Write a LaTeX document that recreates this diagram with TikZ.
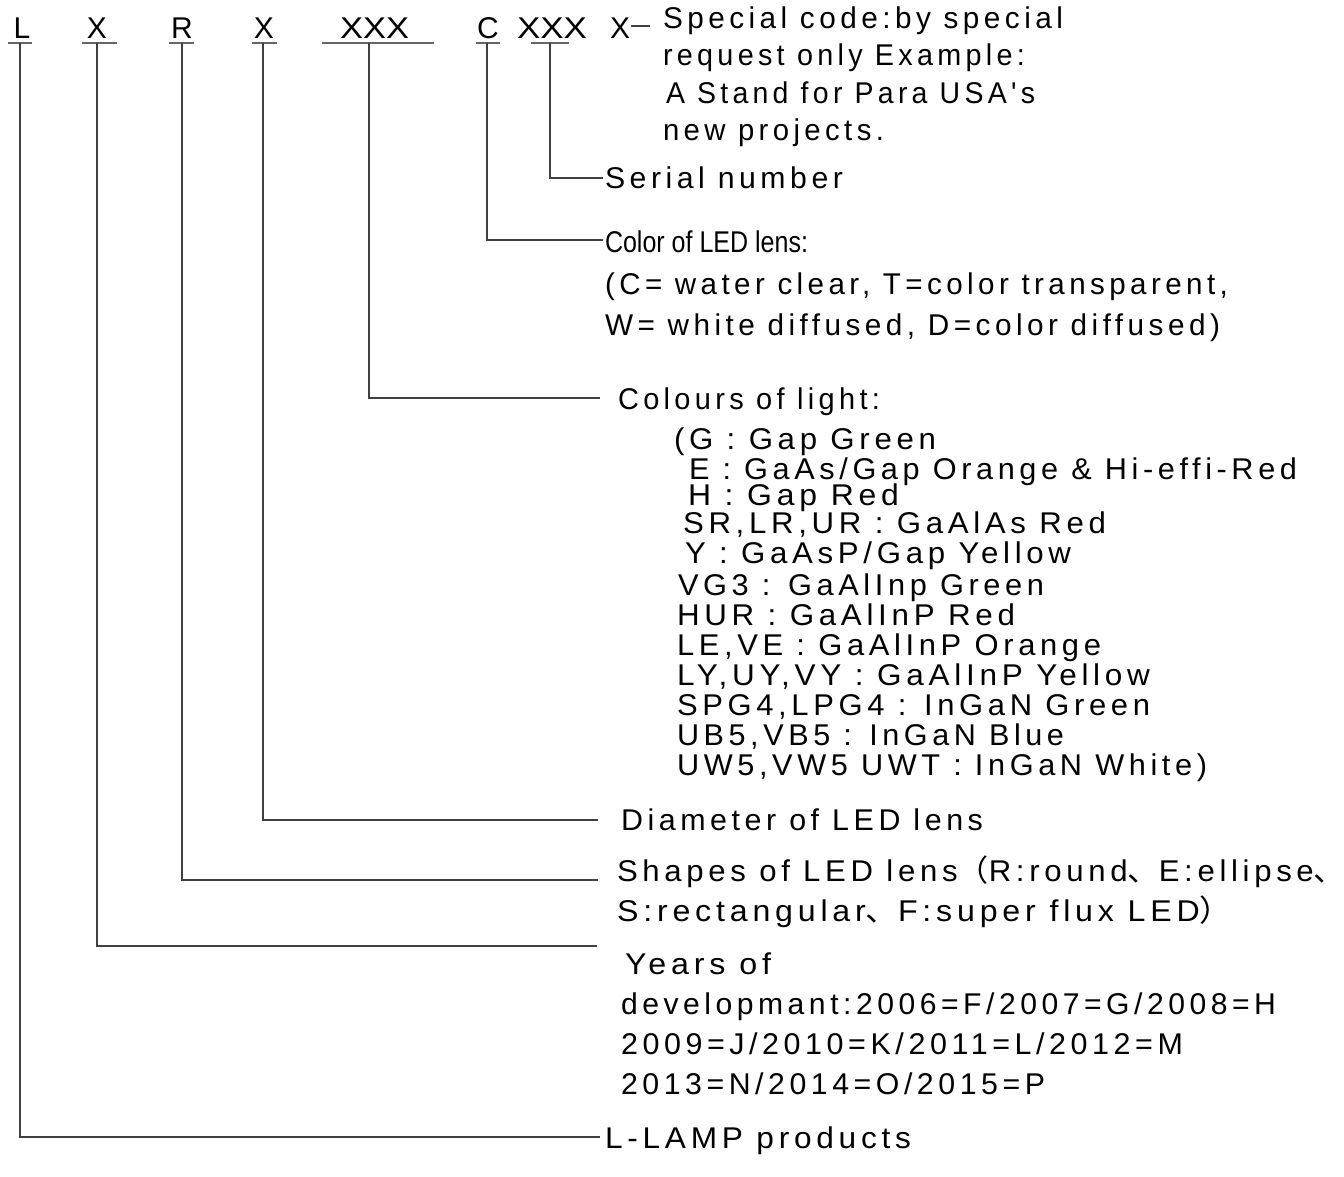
\documentclass[tikz,border=0pt]{standalone}
\usepackage{fontspec}
\usepackage{graphicx}
\setmainfont{Liberation Sans}
\newfontfamily\wfont[LetterSpace=15]{Liberation Sans}
\newfontfamily\cjk{Noto Sans CJK SC}
\newsavebox\fitbox
\newcommand\fitw[2]{\sbox\fitbox{#2}\pgfmathsetmacro\fitr{#1/\the\wd\fitbox}\scalebox{\fitr}[1]{\usebox\fitbox}}
\begin{document}
\begin{tikzpicture}[x=1pt,y=-1pt,
  conn/.style={draw=black!75,line width=1.3pt},
  ul/.style={draw=black!60,line width=1.3pt},
  top/.style={anchor=base,inner sep=0pt,outer sep=0pt,font=\fontsize{30}{30}\selectfont},
  wtxt/.style={anchor=base west,inner sep=0pt,outer sep=0pt,font=\wfont\fontsize{30}{30}\selectfont},
  ntxt/.style={anchor=base west,inner sep=0pt,outer sep=0pt,font=\fontsize{30}{30}\selectfont}]
\useasboundingbox (0,0) rectangle (1344,1177);
\fill[white] (0,0) rectangle (1344,1177);
% top code letters
\node[top] (tL) at (22,39) {L};
\node[top] (tX1) at (97,39) {X};
\node[top] (tR) at (182,39) {R};
\node[top] (tX2) at (264,39) {X};
\node[top,anchor=base west] (tXXX1) at (340,39) {\fitw{69}{XXX}};
\node[top] (tC) at (488,39) {C};
\node[top,anchor=base west] (tXXX2) at (517,39) {\fitw{70}{XXX}};
\node[top] (tX3) at (620,39) {X};
% underlines
\draw[ul] (8,43) -- (32,43);
\draw[ul] (82,43) -- (117,43);
\draw[ul] (169,43) -- (194,43);
\draw[ul] (252,43) -- (277,43);
\draw[ul] (322,43) -- (434,43);
\draw[ul] (476,43) -- (500,43);
\draw[ul] (531,43) -- (569,43);
% connector anchor points
\coordinate (aL) at (20,43);
\coordinate (aX1) at (97,43);
\coordinate (aR) at (182,43);
\coordinate (aX2) at (263,43);
\coordinate (aXXX1) at (369,43);
\coordinate (aC) at (487,43);
\coordinate (aXXX2) at (550,43);
\coordinate (aX3) at (631,26);
\coordinate (eL) at (600,1137);
\coordinate (eX1) at (597,946);
\coordinate (eR) at (598,880);
\coordinate (eX2) at (598,820);
\coordinate (eXXX1) at (600,398);
\coordinate (eC) at (603,240);
\coordinate (eXXX2) at (603,178);
\coordinate (eX3) at (650,26);
\draw[conn] (aL) |- (eL);
\draw[conn] (aX1) |- (eX1);
\draw[conn] (aR) |- (eR);
\draw[conn] (aX2) |- (eX2);
\draw[conn] (aXXX1) |- (eXXX1);
\draw[conn] (aC) |- (eC);
\draw[conn] (aXXX2) |- (eXXX2);
\draw[conn] (aX3) -- (eX3);
% special code
\node[wtxt] (sp1) at (663,29) {\fitw{400}{Special code:by special}};
\node[wtxt] (sp2) at (663,66) {\fitw{362}{request only Example:}};
\node[wtxt] (sp3) at (666,104) {\fitw{369}{A Stand for Para USA's}};
\node[wtxt] (sp4) at (663,141) {\fitw{221}{new projects.}};
% serial
\node[wtxt] (ser) at (605,189) {\fitw{238}{Serial number}};
% color of lens
\node[ntxt] (col1) at (605,253) {\fitw{203}{Color of LED lens:}};
\node[wtxt] (col2) at (605,294) {\fitw{623}{(C= water clear, T=color transparent,}};
\node[wtxt] (col3) at (605,335) {\fitw{615}{W= white diffused, D=color diffused)}};
% colours of light
\node[wtxt] (lt0) at (618,409) {\fitw{262}{Colours of light:}};
\node[wtxt] (lt1) at (674,449) {\fitw{262}{(G : Gap Green}};
\node[wtxt] (lt2) at (689,479) {\fitw{608}{E : GaAs/Gap Orange \& Hi-effi-Red}};
\node[wtxt] (lt3) at (688,505) {\fitw{211}{H : Gap Red}};
\node[wtxt] (lt4) at (683,533) {\fitw{423}{SR,LR,UR : GaAlAs Red}};
\node[wtxt] (lt5) at (685,563) {\fitw{386}{Y : GaAsP/Gap Yellow}};
\node[wtxt] (lt6) at (678,595) {\fitw{366}{VG3 : GaAlInp Green}};
\node[wtxt] (lt7) at (677,625) {\fitw{338}{HUR : GaAlInP Red}};
\node[wtxt] (lt8) at (677,655) {\fitw{424}{LE,VE : GaAlInP Orange}};
\node[wtxt] (lt9) at (677,685) {\fitw{473}{LY,UY,VY : GaAlInP Yellow}};
\node[wtxt] (lt10) at (677,715) {\fitw{473}{SPG4,LPG4 : InGaN Green}};
\node[wtxt] (lt11) at (677,745) {\fitw{387}{UB5,VB5 : InGaN Blue}};
\node[wtxt] (lt12) at (677,775) {\fitw{530}{UW5,VW5 UWT : InGaN White)}};
% diameter
\node[wtxt] (dia) at (621,830) {\fitw{362}{Diameter of LED lens}};
% shapes
\node[wtxt] (shp1) at (617,881) {\fitw{728}{Shapes of LED lens{\cjk （}R:round{\cjk 、}E:ellipse{\cjk 、}}};
\node[wtxt] (shp2) at (617,921) {\fitw{615}{S:rectangular{\cjk 、}F:super flux LED{\cjk ）}}};
% years
\node[wtxt] (yr1) at (625,974) {\fitw{146}{Years of}};
\node[wtxt] (yr2) at (621,1014) {\fitw{655}{developmant:2006=F/2007=G/2008=H}};
\node[wtxt] (yr3) at (621,1054) {\fitw{562}{2009=J/2010=K/2011=L/2012=M}};
\node[wtxt] (yr4) at (621,1094) {\fitw{424}{2013=N/2014=O/2015=P}};
% L-LAMP
\node[wtxt] (lamp) at (605,1148) {\fitw{306}{L-LAMP products}};
\end{tikzpicture}
\end{document}
